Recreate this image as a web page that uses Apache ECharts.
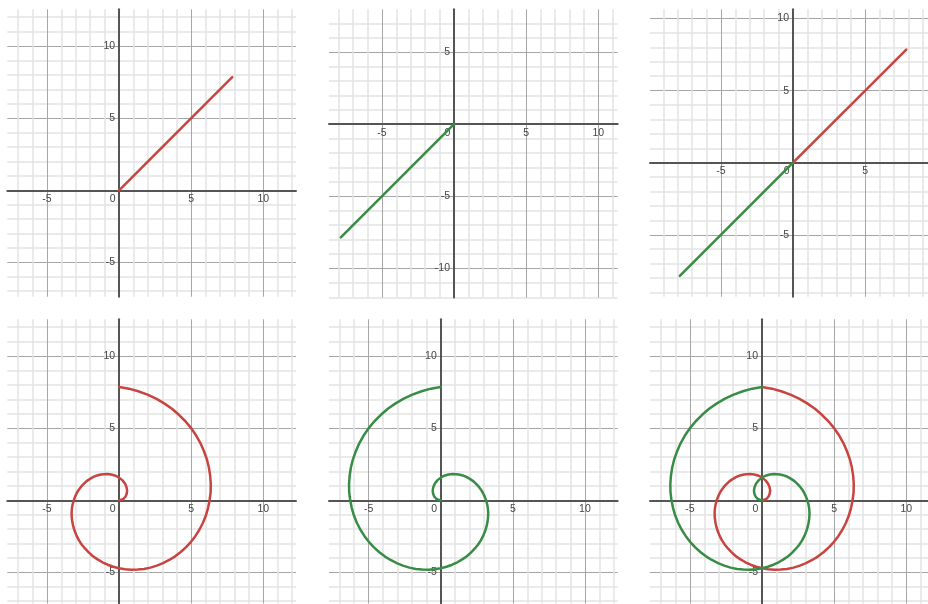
<!DOCTYPE html>
<html>
<head>
<meta charset="utf-8">
<script src="https://cdn.jsdelivr.net/npm/echarts@6/dist/echarts.min.js"></script>
<style>
  html, body { margin: 0; padding: 0; background: #fff; }
  #chart { width: 928px; height: 604px; }
</style>
</head>
<body>
<div id="chart"></div>
<script>
// straight segments (top row)
const redLine = [[0, 0], [7.85, 7.85]];
const greenLine = [[-7.85, -7.85], [0, 0]];

// spirals (bottom row)
const redSpiral = [
  [0, 0], [0.09, 0.01], [0.17, 0.03], [0.25, 0.07], [0.33, 0.12], [0.40, 0.18], [0.45, 0.26],
  [0.50, 0.35], [0.53, 0.45], [0.56, 0.56], [0.56, 0.67], [0.55, 0.79], [0.52, 0.91],
  [0.48, 1.03], [0.42, 1.15], [0.34, 1.26], [0.24, 1.38], [0.13, 1.48], [0, 1.57],
  [-0.14, 1.65], [-0.30, 1.72], [-0.47, 1.77], [-0.66, 1.80], [-0.85, 1.82], [-1.05, 1.81],
  [-1.25, 1.79], [-1.46, 1.74], [-1.67, 1.67], [-1.87, 1.57], [-2.07, 1.45], [-2.27, 1.31],
  [-2.45, 1.14], [-2.62, 0.96], [-2.78, 0.75], [-2.92, 0.52], [-3.04, 0.27], [-3.14, 0],
  [-3.22, -0.28], [-3.27, -0.58], [-3.29, -0.88], [-3.28, -1.19], [-3.24, -1.51], [-3.17, -1.83],
  [-3.07, -2.15], [-2.94, -2.47], [-2.78, -2.78], [-2.58, -3.08], [-2.35, -3.36], [-2.09, -3.63],
  [-1.81, -3.88], [-1.49, -4.10], [-1.15, -4.30], [-0.79, -4.47], [-0.40, -4.61], [0, -4.71],
  [0.42, -4.78], [0.85, -4.81], [1.29, -4.80], [1.73, -4.76], [2.18, -4.67], [2.62, -4.53],
  [3.05, -4.36], [3.48, -4.14], [3.89, -3.89], [4.28, -3.59], [4.65, -3.25], [4.99, -2.88],
  [5.30, -2.47], [5.58, -2.03], [5.82, -1.56], [6.02, -1.06], [6.17, -0.54], [6.28, 0],
  [6.35, 0.56], [6.36, 1.12], [6.32, 1.69], [6.23, 2.27], [6.09, 2.84], [5.89, 3.40],
  [5.65, 3.95], [5.35, 4.49], [5.00, 5.00], [4.60, 5.48], [4.15, 5.93], [3.67, 6.35],
  [3.13, 6.72], [2.57, 7.05], [1.97, 7.33], [1.33, 7.56], [0.68, 7.74], [0, 7.85]
];
const greenSpiral = [
  [0, 0], [-0.09, 0.01], [-0.17, 0.03], [-0.25, 0.07], [-0.33, 0.12], [-0.40, 0.18], [-0.45, 0.26],
  [-0.50, 0.35], [-0.53, 0.45], [-0.56, 0.56], [-0.56, 0.67], [-0.55, 0.79], [-0.52, 0.91],
  [-0.48, 1.03], [-0.42, 1.15], [-0.34, 1.26], [-0.24, 1.38], [-0.13, 1.48], [0, 1.57],
  [0.14, 1.65], [0.30, 1.72], [0.47, 1.77], [0.66, 1.80], [0.85, 1.82], [1.05, 1.81],
  [1.25, 1.79], [1.46, 1.74], [1.67, 1.67], [1.87, 1.57], [2.07, 1.45], [2.27, 1.31],
  [2.45, 1.14], [2.62, 0.96], [2.78, 0.75], [2.92, 0.52], [3.04, 0.27], [3.14, 0],
  [3.22, -0.28], [3.27, -0.58], [3.29, -0.88], [3.28, -1.19], [3.24, -1.51], [3.17, -1.83],
  [3.07, -2.15], [2.94, -2.47], [2.78, -2.78], [2.58, -3.08], [2.35, -3.36], [2.09, -3.63],
  [1.81, -3.88], [1.49, -4.10], [1.15, -4.30], [0.79, -4.47], [0.40, -4.61], [0, -4.71],
  [-0.42, -4.78], [-0.85, -4.81], [-1.29, -4.80], [-1.73, -4.76], [-2.18, -4.67], [-2.62, -4.53],
  [-3.05, -4.36], [-3.48, -4.14], [-3.89, -3.89], [-4.28, -3.59], [-4.65, -3.25], [-4.99, -2.88],
  [-5.30, -2.47], [-5.58, -2.03], [-5.82, -1.56], [-6.02, -1.06], [-6.17, -0.54], [-6.28, 0],
  [-6.35, 0.56], [-6.36, 1.12], [-6.32, 1.69], [-6.23, 2.27], [-6.09, 2.84], [-5.89, 3.40],
  [-5.65, 3.95], [-5.35, 4.49], [-5.00, 5.00], [-4.60, 5.48], [-4.15, 5.93], [-3.67, 6.35],
  [-3.13, 6.72], [-2.57, 7.05], [-1.97, 7.33], [-1.33, 7.56], [-0.68, 7.74], [0, 7.85]
];

// visible window of each panel: [xmin, xmax, ymin, ymax]
const views = [
  [-7.75, 12.27, -7.38, 12.55],
  [-8.67, 11.35, -12.02, 7.97],
  [-9.92, 10.12, -9.29, 10.64],
  [-7.75, 12.27, -7.16, 12.55],
  [-7.75, 12.27, -7.16, 12.55],
  [-7.77, 12.27, -7.16, 12.55]
];
// top-left corner of each panel in px
const corners = [[7.3, 9.3], [329, 9.3], [650, 9.3], [7.3, 319.3], [329, 319.3], [650, 319.3]];
const pxPerUnit = 14.42;

const RED = '#c74440';
const GREEN = '#388c46';
const FONT = 'Liberation Sans, Arial, sans-serif';
const LABEL = '#444';

const grids = [], xAxes = [], yAxes = [];
views.forEach((v, i) => {
  grids.push({
    left: corners[i][0],
    top: corners[i][1],
    width: (v[1] - v[0]) * pxPerUnit,
    height: (v[3] - v[2]) * pxPerUnit,
    outerBoundsMode: 'none',
    containLabel: false
  });
  const common = {
    gridIndex: i,
    type: 'value',
    splitNumber: 4,
    axisLine: { onZero: false, lineStyle: { color: '#555', width: 2 } },
    axisTick: { show: false },
    minorTick: { show: false, splitNumber: 5 },
    splitLine: { show: true, showMinLine: false, showMaxLine: false, lineStyle: { color: '#a6a6a6', width: 1 } },
    minorSplitLine: { show: true, lineStyle: { color: '#e4e4e4', width: 1.5 } },
    z: 1
  };
  // x axis sits on y = 0, y axis on x = 0
  xAxes.push(Object.assign({}, common, {
    min: v[0], max: v[1],
    position: 'bottom',
    offset: v[2] * pxPerUnit,
    axisLabel: {
      showMinLabel: false, showMaxLabel: false,
      color: LABEL, fontSize: 10.5, fontFamily: FONT,
      margin: 3,
      formatter: val => val === 0 ? '{z|0}' : String(val),
      rich: { z: { padding: [0, 13, 0, 0], color: LABEL, fontSize: 10.5, fontFamily: FONT } }
    }
  }));
  yAxes.push(Object.assign({}, common, {
    min: v[2], max: v[3],
    position: 'left',
    offset: v[0] * pxPerUnit,
    axisLabel: {
      showMinLabel: false, showMaxLabel: false,
      color: LABEL, fontSize: 10.5, fontFamily: FONT,
      margin: 4,
      formatter: val => val === 0 ? '' : String(val)
    }
  }));
});

function curve(idx, data, color) {
  return {
    type: 'line',
    xAxisIndex: idx,
    yAxisIndex: idx,
    data: data,
    symbol: 'none',
    smooth: false,
    clip: true,
    silent: true,
    z: 3,
    lineStyle: { color: color, width: 2.5, join: 'round', cap: 'round' }
  };
}

const chart = echarts.init(document.getElementById('chart'));
chart.setOption({
  animation: false,
  backgroundColor: '#fff',
  grid: grids,
  xAxis: xAxes,
  yAxis: yAxes,
  series: [
    curve(0, redLine, RED),
    curve(1, greenLine, GREEN),
    curve(2, redLine, RED),
    curve(2, greenLine, GREEN),
    curve(3, redSpiral, RED),
    curve(4, greenSpiral, GREEN),
    curve(5, redSpiral, RED),
    curve(5, greenSpiral, GREEN)
  ]
});
</script>
</body>
</html>
